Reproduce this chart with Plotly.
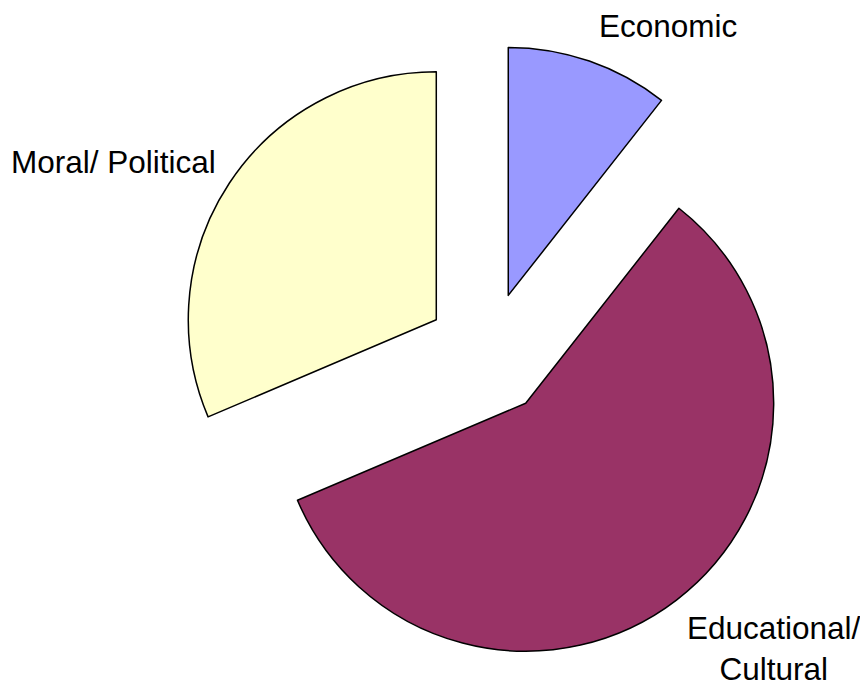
import plotly.graph_objects as go

labels = ["Economic", "Educational/ Cultural", "Moral/ Political"]
values = [10.6, 58.0, 31.4]
colors = ["#9999FF", "#993366", "#FFFFCC"]
label_text = ["Economic", "Educational/<br>Cultural", "Moral/ Political"]

# page has an 8px body margin; work in figure pixels = window pixels - 8
OFF = 8
W, H = 868 - OFF, 686 - OFF
# label centers in window pixels
label_pos = [(668, 26), (774, 648), (113, 162)]
# pie square (window pixels): x 178..798, y 44..664
pie_x = (178 - OFF, 798 - OFF)
pie_y = (44 - OFF, 664 - OFF)

fig = go.Figure(go.Pie(
    labels=labels,
    values=values,
    sort=False,
    direction="clockwise",
    rotation=0,
    pull=[0.25, 0.25, 0.25],
    marker=dict(colors=colors, line=dict(color="black", width=1.5)),
    textinfo="none",
    hoverinfo="label+percent",
    showlegend=False,
    domain=dict(x=[pie_x[0] / W, pie_x[1] / W],
                y=[1 - pie_y[1] / H, 1 - pie_y[0] / H]),
))

for txt, (px, py) in zip(label_text, label_pos):
    fig.add_annotation(
        x=(px - OFF) / W, y=1 - (py - OFF) / H, xref="paper", yref="paper",
        text=txt, showarrow=False, xanchor="center", yanchor="middle",
        font=dict(family="Liberation Sans, Arial, sans-serif", size=31.5, color="black"),
    )

fig.update_layout(
    width=W, height=H,
    margin=dict(l=0, r=0, t=0, b=0),
    paper_bgcolor="white", plot_bgcolor="white",
)

fig.write_html("out.html")
